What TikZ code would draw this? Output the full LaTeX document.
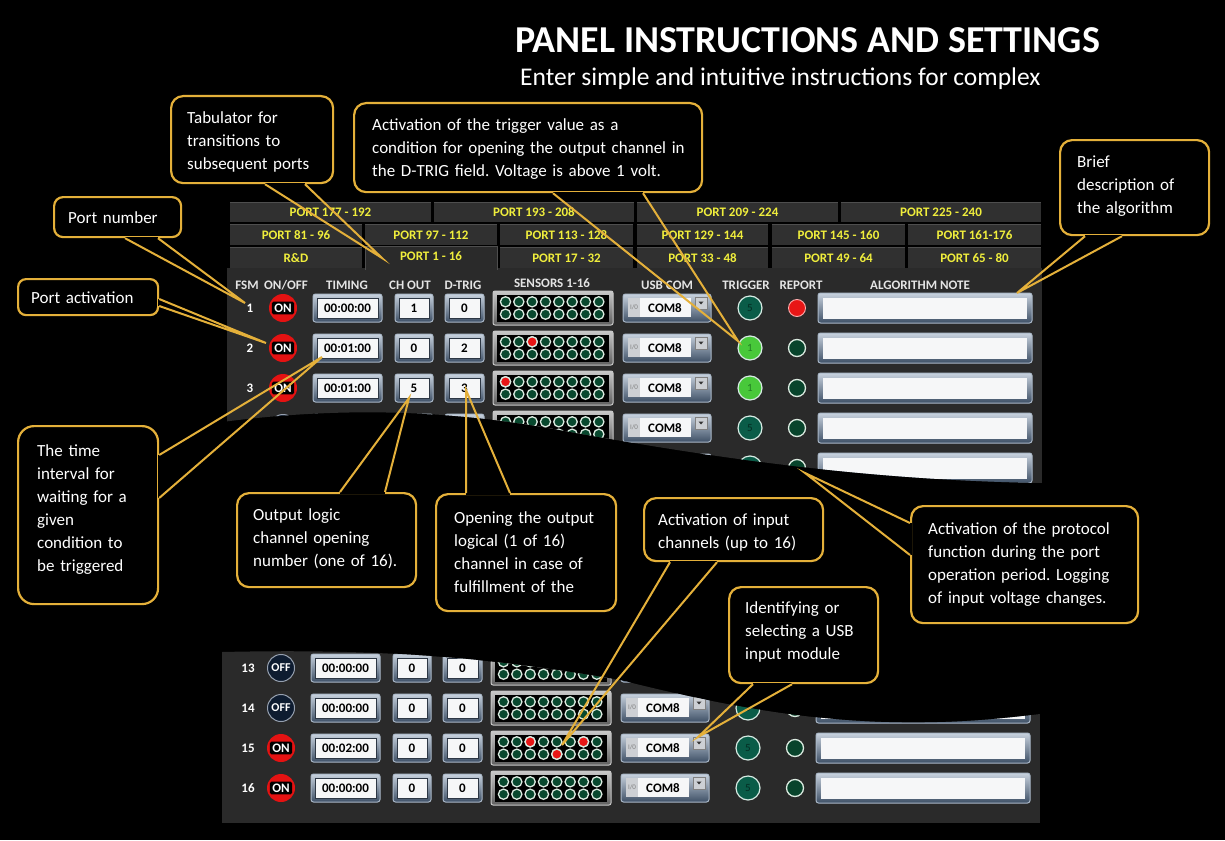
\documentclass[tikz,border=0pt]{standalone}
\usepackage{fontspec}
\setmainfont{Carlito}
\usetikzlibrary{calc}
\frenchspacing
\definecolor{gold}{RGB}{228,176,58}
\definecolor{panelbody}{RGB}{42,42,42}
\definecolor{tabfill}{RGB}{48,48,48}
\definecolor{tabedge}{RGB}{78,78,78}
\definecolor{tabtext}{RGB}{240,238,60}
\definecolor{hdrcol}{RGB}{228,228,228}
\definecolor{framehi}{RGB}{200,210,222}
\definecolor{framelo}{RGB}{62,80,102}
\definecolor{frameedge}{RGB}{170,184,200}
\definecolor{sframehi}{RGB}{200,200,200}
\definecolor{sframelo}{RGB}{95,95,95}
\definecolor{fieldwhite}{RGB}{246,247,248}
\definecolor{fieldedge}{RGB}{45,55,68}
\definecolor{sensgreen}{RGB}{8,72,46}
\definecolor{sensring}{RGB}{220,235,225}
\definecolor{sensred}{RGB}{232,22,22}
\definecolor{rptring}{RGB}{255,175,175}
\definecolor{onred}{RGB}{228,18,18}
\definecolor{offnavy}{RGB}{14,28,48}
\definecolor{offring}{RGB}{150,160,175}
\definecolor{trigdark}{RGB}{10,92,72}
\definecolor{trigring}{RGB}{215,235,228}
\definecolor{trigtxt}{RGB}{4,45,35}
\definecolor{triggreen}{RGB}{72,200,58}
\definecolor{triggreentxt}{RGB}{35,125,35}
\definecolor{rptdarkfill}{RGB}{8,68,44}
\definecolor{iconbg}{RGB}{205,208,212}

\def\uiOnWord{ON}
\newcommand\rowfont{\fontsize{13}{15}\selectfont\bfseries}

\tikzset{
 rowtxt/.style={font=\rowfont, text=black, inner sep=0, anchor=base},
 numtxt/.style={font=\rowfont, text=white, inner sep=0, anchor=base},
 hdr/.style={font=\rowfont, text=hdrcol, inner sep=0, anchor=base},
 tabtxt/.style={font=\rowfont, text=tabtext, inner sep=0, anchor=base},
 uiframe/.style={top color=framehi, bottom color=framelo, draw=frameedge, line width=1pt, rounded corners=2.5pt},
 sframe/.style={top color=sframehi, bottom color=sframelo, draw=sframehi, line width=1pt, rounded corners=2pt},
 field/.style={fill=fieldwhite, draw=fieldedge, line width=0.8pt},
 sensor/.style={fill=sensgreen, draw=sensring, line width=1.3pt},
 sensorred/.style={fill=sensred, draw=sensring, line width=1.3pt},
 rptdark/.style={fill=rptdarkfill, draw=sensring, line width=1.3pt},
 rptred/.style={fill=sensred, draw=rptring, line width=0.9pt},
 callout/.style={draw=gold, line width=2.2pt, fill=black, rounded corners=12pt, inner sep=0, anchor=north west},
 ctext/.style={text=white, font=\fontsize{17}{23}\selectfont, align=left, text width=340pt, inner sep=0, anchor=base west},
 tabhi/.style={draw=tabedge, line width=0.8pt},
}

\newcommand\uiBox[4]{%
 \draw[uiframe] (#1,#2) rectangle (#3,#4);
 \draw[field] (#1+4,#2+4) rectangle (#3-4,#4-4);}

\newcommand\uiTab[6]{%
 \fill[tabfill] (#2,#3) rectangle (#4,#5);
 \draw[tabhi] (#2,#3+0.5) -- (#4,#3+0.5);
 \node[tabtxt] (#1) at ({(#2+#4)/2},#5-5.5) {#6};}

\newcommand\uiRow[9]{%
\begin{scope}[shift={(#2,#1)}]
\node[numtxt] (n#3) at (250,4.5) {#3};
\def\uiState{#4}%
\ifx\uiState\uiOnWord
 \fill[onred] (283,0) circle (14);
 \node[fill=black, rounded corners=1.5pt, inner xsep=2.5pt, inner ysep=2pt, text=white, font=\rowfont] (oo#3) at (283,0) {ON};
\else
 \filldraw[fill=offnavy, draw=offring, line width=1pt] (283,0) circle (13.5);
 \node[text=white, font=\fontsize{12}{14}\selectfont\bfseries, inner sep=0] (oo#3) at (283,0) {OFF};
\fi
\uiBox{313}{-14}{382}{14}
\node[rowtxt] (tm#3) at (347.5,4.5) {#5};
\uiBox{395}{-14}{433}{14}
\node[rowtxt] (co#3) at (414,4.5) {#6};
\uiBox{445}{-14}{484}{14}
\node[rowtxt] (dt#3) at (464.5,4.5) {#7};
\draw[sframe] (493,-17) rectangle (613,17);
\fill[black] (497,-13.5) rectangle (609,13.5);
\foreach \k in {0,...,7}{\filldraw[sensor] (505.5+\k*13.33,-6.2) circle (5.1); \filldraw[sensor] (505.5+\k*13.33,6.2) circle (5.1);}
\draw[uiframe] (623,-14) rectangle (711,14);
\fill[iconbg] (628,-10) rectangle (640,9);
\node[font=\fontsize{7}{7}\selectfont, text=gray, inner sep=0] (io#3) at (634,-1) {I/0};
\fill[fieldwhite] (640,-10) rectangle (691,9);
\node[rowtxt] (usb#3) at (665,4.5) {COM8};
\filldraw[fill=iconbg, draw=gray] (695,-11) rectangle (707,1);
\fill[gray!40!black] (698.5,-6.5) -- (703.5,-6.5) -- (701,-3.5) -- cycle;
\ifnum#8=1
 \filldraw[fill=triggreen, draw=trigring, line width=1.2pt] (750,0) circle (12);
 \node[font=\fontsize{11}{11}\selectfont, text=triggreentxt, inner sep=0] (tr#3) at (750,0) {1};
\else
 \filldraw[fill=trigdark, draw=trigring, line width=1.2pt] (750,0) circle (12);
 \node[font=\fontsize{11}{11}\selectfont, text=trigtxt, inner sep=0] (tr#3) at (750,0) {5};
\fi
\filldraw[#9] (797,0) circle (8.5);
\draw[uiframe] (818,-15) rectangle (1032,15);
\fill[fieldwhite] (823,-10) rectangle (1027,11);
\end{scope}}

\newcommand\uiRed[4]{\filldraw[sensorred] ({505.5+#3*13.33+#1},#2+#4*1.0333) circle (5.1);}

\newcommand\uiTail[3]{%
 \draw[black, line width=3.4pt] #1 -- #2;
 \draw[gold, line width=2pt] #1 -- #3 -- #2;}

\begin{document}
\begin{tikzpicture}[x=1pt,y=-1pt]
\useasboundingbox (0,0) rectangle (1225,840);
\fill[black] (0,0) rectangle (1225,840);

% title
\node[anchor=base west, inner sep=0, text=white, font=\fontsize{38}{40}\selectfont\bfseries] (title) at (515,53) {PANEL INSTRUCTIONS AND SETTINGS};
\node[anchor=base west, inner sep=0, text=white, font=\fontsize{25.5}{27}\selectfont] (subtitle) at (520,86) {Enter simple and intuitive instructions for complex};

% ---------- top panel ----------
\begin{scope}
\clip (222,195) -- (1050,195) -- (1050,483) -- (1042,483) .. controls (850,480) and (680,452) .. (560,430) .. controls (440,408) and (330,408) .. (222,422) -- cycle;
\fill[panelbody] (227,268) rectangle (1042,500);
\uiTab{tA1}{230}{202}{431}{222}{PORT 177 - 192}
\uiTab{tA2}{434}{202}{634}{222}{PORT 193 - 208}
\uiTab{tA3}{637}{202}{838}{222}{PORT 209 - 224}
\uiTab{tA4}{841}{202}{1041}{222}{PORT 225 - 240}
\uiTab{tB1}{230}{224}{362}{245}{PORT 81 - 96}
\uiTab{tB2}{365}{224}{497}{245}{PORT 97 - 112}
\uiTab{tB3}{500}{224}{633}{245}{PORT 113 - 128}
\uiTab{tB4}{637}{224}{768}{245}{PORT 129 - 144}
\uiTab{tB5}{772}{224}{905}{245}{PORT 145 - 160}
\uiTab{tB6}{908}{224}{1041}{245}{PORT 161-176}
\uiTab{tC1}{230}{247}{362}{268}{R\&D}
\fill[panelbody] (365,246) rectangle (497,270);
\draw[tabhi] (365,270) -- (365,246.5) -- (497,246.5) -- (497,270);
\node[tabtxt] (tC2) at (431,260) {PORT 1 - 16};
\uiTab{tC3}{500}{247}{633}{268}{PORT 17 - 32}
\uiTab{tC4}{637}{247}{768}{268}{PORT 33 - 48}
\uiTab{tC5}{772}{247}{905}{268}{PORT 49 - 64}
\uiTab{tC6}{908}{247}{1041}{268}{PORT 65 - 80}
% headers
\node[hdr] (hFSM) at (247,289) {FSM};
\node[hdr] (hOn) at (286,289) {ON/OFF};
\node[hdr] (hTim) at (347,289) {TIMING};
\node[hdr] (hCh) at (410,289) {CH OUT};
\node[hdr] (hDt) at (463,289) {D-TRIG};
\node[hdr] (hSen) at (552,287) {SENSORS 1-16};
\node[hdr] (hUsb) at (667,289) {USB COM};
\node[hdr] (hTrg) at (746,289) {TRIGGER};
\node[hdr] (hRep) at (801,289) {REPORT};
\node[hdr] (hAlg) at (920,289) {ALGORITHM NOTE};
% rows
\uiRow{308}{0}{1}{ON}{00:00:00}{1}{0}{5}{rptred}
\uiRow{348}{0}{2}{ON}{00:01:00}{0}{2}{1}{rptdark}
\uiRow{388}{0}{3}{ON}{00:01:00}{5}{3}{1}{rptdark}
\uiRow{428}{0}{4}{OFF}{00:00:00}{0}{0}{5}{rptdark}
\uiRow{468}{0}{5}{OFF}{00:00:00}{0}{0}{5}{rptdark}
\uiRed{0}{348}{2}{-6}
\uiRed{0}{388}{0}{-6}
\end{scope}

% ---------- bottom panel ----------
\begin{scope}
\clip (222,652) .. controls (400,648) and (500,660) .. (620,680) .. controls (760,715) and (880,735) .. (1040,714) -- (1040,825) -- (222,825) -- cycle;
\fill[panelbody] (222,640) rectangle (1040,823);
\uiRow{668}{-2}{13}{OFF}{00:00:00}{0}{0}{5}{rptdark}
\uiRow{708}{-2}{14}{OFF}{00:00:00}{0}{0}{5}{rptdark}
\uiRow{748}{-2}{15}{ON}{00:02:00}{0}{0}{5}{rptdark}
\uiRow{788}{-2}{16}{ON}{00:00:00}{0}{0}{5}{rptdark}
\uiRed{-2}{748}{2}{-6}
\uiRed{-2}{748}{6}{-6}
\uiRed{-2}{748}{4}{6}
\end{scope}

% ---------- callouts ----------
\coordinate (tTab) at (382,258);
\coordinate (tPort) at (245,303);
\coordinate (tAct) at (266,343);
\coordinate (tTrig) at (738,341);
\coordinate (tBrief) at (1017,293);
\coordinate (tTime) at (322,357);
\coordinate (tOut) at (409,398);
\coordinate (tOpen) at (466,390);
\coordinate (tIn) at (562,745);
\coordinate (tUsb) at (698,737);
\coordinate (tProt) at (805,473);

\node[callout, minimum width=162pt, minimum height=87pt] (cTab) at (170,95) {};
\node[callout, minimum width=127pt, minimum height=40pt, rounded corners=9pt] (cPort) at (53,196) {};
\node[callout, minimum width=140pt, minimum height=36pt, rounded corners=8pt] (cAct) at (17,278) {};
\node[callout, minimum width=348pt, minimum height=89pt] (cTrig) at (353,102) {};
\node[callout, minimum width=149pt, minimum height=95pt] (cBrief) at (1059,139) {};
\node[callout, minimum width=140pt, minimum height=178pt, rounded corners=16pt] (cTime) at (17,425) {};
\node[callout, minimum width=179pt, minimum height=94pt] (cOut) at (236,492) {};
\node[callout, minimum width=180pt, minimum height=117pt] (cOpen) at (435,493) {};
\node[callout, minimum width=179pt, minimum height=63pt] (cIn) at (643,497) {};
\node[callout, minimum width=149pt, minimum height=96pt] (cUsb) at (728,586) {};
\node[callout, minimum width=227pt, minimum height=117pt] (cProt) at (910,505) {};

\node[ctext] (cTabT) at ($(cTab.north west)+(17,29)$) {Tabulator for\\transitions to\\subsequent ports};
\node[ctext] (cPortT) at ($(cPort.north west)+(15,27)$) {Port number};
\node[ctext] (cActT) at ($(cAct.north west)+(14,25)$) {Port activation};
\node[ctext] (cTrigT) at ($(cTrig.north west)+(19,28)$) {Activation of the trigger value as a\\condition for opening the output channel in\\the D-TRIG field. Voltage is above 1 volt.};
\node[ctext] (cBriefT) at ($(cBrief.north west)+(18,28)$) {Brief\\description of\\the algorithm};
\node[ctext] (cTimeT) at ($(cTime.north west)+(20,31)$) {The time\\interval for\\waiting for a\\given\\condition to\\be triggered};
\node[ctext] (cOutT) at ($(cOut.north west)+(17,28)$) {Output logic\\channel opening\\number (one of 16).};
\node[ctext] (cOpenT) at ($(cOpen.north west)+(19,30)$) {Opening the output\\logical (1 of 16)\\channel in case of\\fulfillment of the};
\node[ctext] (cInT) at ($(cIn.north west)+(15,28)$) {Activation of input\\channels (up to 16)};
\node[ctext] (cUsbT) at ($(cUsb.north west)+(17,27)$) {Identifying or\\selecting a USB\\input module};
\node[ctext] (cProtT) at ($(cProt.north west)+(18,29)$) {Activation of the protocol\\function during the port\\operation period. Logging\\of input voltage changes.};

\uiTail{($(cTab.south west)+(95,0)$)}{($(cTab.south west)+(135,0)$)}{(tTab)}
\uiTail{($(cPort.south west)+(72,0)$)}{($(cPort.south west)+(105,0)$)}{(tPort)}
\uiTail{($(cAct.north east)+(0,21)$)}{($(cAct.north east)+(0,28)$)}{(tAct)}
\uiTail{($(cTrig.south west)+(200,0)$)}{($(cTrig.south west)+(290,0)$)}{(tTrig)}
\uiTail{($(cBrief.south west)+(26,0)$)}{($(cBrief.south west)+(63,0)$)}{(tBrief)}
\uiTail{($(cTime.north east)+(0,30)$)}{($(cTime.north east)+(0,73)$)}{(tTime)}
\uiTail{($(cOut.north west)+(104,0)$)}{($(cOut.north west)+(149,0)$)}{(tOut)}
\uiTail{($(cOpen.north west)+(31,0)$)}{($(cOpen.north west)+(75,0)$)}{(tOpen)}
\uiTail{($(cIn.south west)+(27,0)$)}{($(cIn.south west)+(74,0)$)}{(tIn)}
\uiTail{($(cUsb.south west)+(25,0)$)}{($(cUsb.south west)+(64,0)$)}{(tUsb)}
\uiTail{($(cProt.north west)+(0,18)$)}{($(cProt.north west)+(0,50)$)}{(tProt)}
\end{tikzpicture}
\end{document}
